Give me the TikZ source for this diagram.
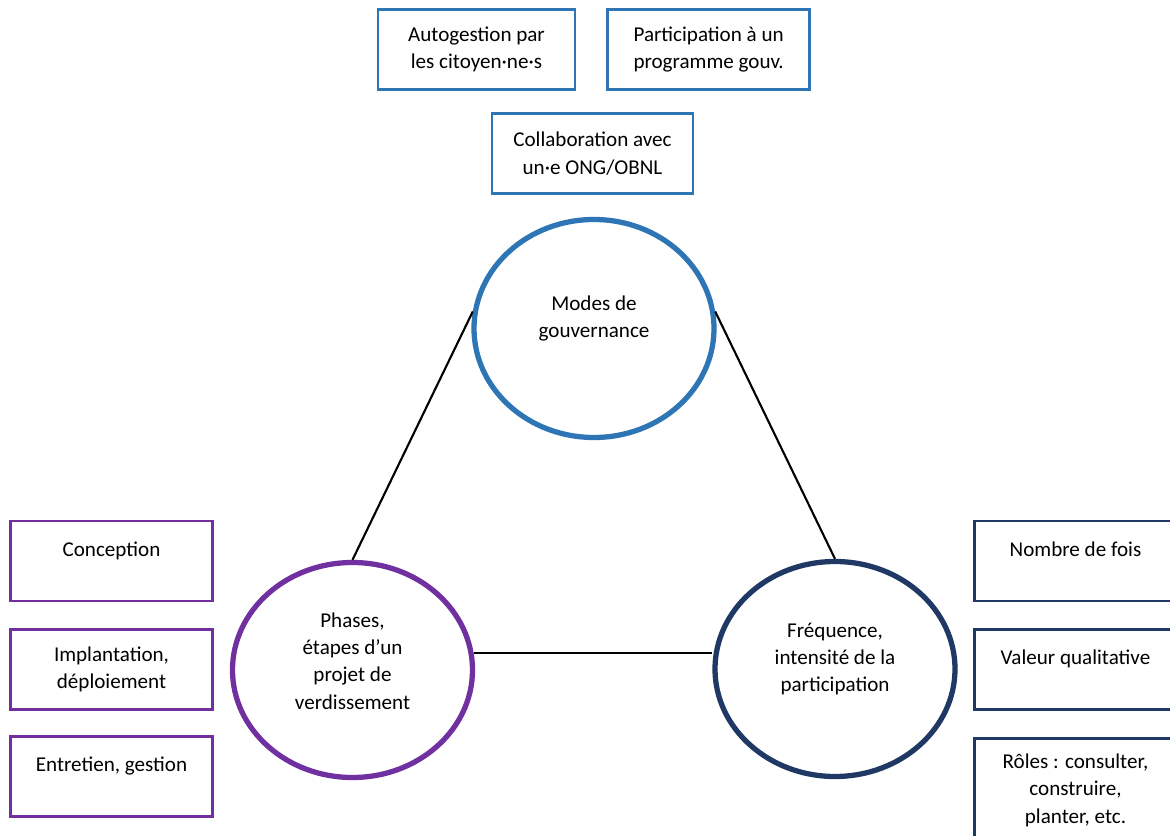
\documentclass[tikz,border=0pt]{standalone}
\usepackage{fontspec}
\setmainfont{Carlito}
\usetikzlibrary{shapes.geometric,positioning}
\definecolor{bleuM}{HTML}{2E75B6}
\definecolor{violetM}{HTML}{7030A0}
\definecolor{marine}{HTML}{203864}
\tikzset{
	boite/.style={rectangle, draw, line width=1.5pt, minimum width=4.04cm,
		minimum height=1.6cm, align=center, font=\fontsize{12}{15.6}\selectfont},
	seul/.style={text height=8pt, text depth=13.5pt},
	cercle/.style={ellipse, draw, line width=3pt, minimum width=4.8cm,
		minimum height=4.3cm, inner sep=0pt},
	texte/.style={align=center, font=\fontsize{12}{15.6}\selectfont},
	lien/.style={draw=black, line width=1.2pt}
}

\begin{document}
\begin{tikzpicture}[node distance=0.52cm]
	\clip (0,0) rectangle (23.4,16.7);
	
	% modes de gouvernance
	\node[boite, draw=bleuM, minimum width=3.94cm] (autogestion) at (9.53,15.71) {Autogestion par\\les citoyen·ne·s};
	\node[boite, draw=bleuM, right=0.6cm of autogestion] (programme) {Participation à un\\programme gouv.};
	\node[boite, draw=bleuM, minimum width=4.02cm] (collab) at (11.85,13.63) {Collaboration avec\\un·e ONG/OBNL};
	
	\node[cercle, draw=bleuM, minimum height=4.36cm] (modes) at (11.88,10.13) {};
	\node[texte] (tmodes) at ([yshift=0.2cm]modes.center) {Modes de\\gouvernance};
	
	% phases
	\node[cercle, draw=violetM] (phases) at (7.05,3.30) {};
	\node[texte] (tphases) at ([yshift=0.18cm]phases.center) {Phases,\\étapes d’un\\projet de\\verdissement};
	
	\node[boite, seul, draw=violetM] (conception) at (2.23,5.48) {Conception};
	\node[boite, draw=violetM, below=of conception] (implantation) {Implantation,\\déploiement};
	\node[boite, seul, draw=violetM, below=0.48cm of implantation] (entretien) {Entretien, gestion};
	
	% frequence
	\node[cercle, draw=marine] (freq) at (16.70,3.32) {};
	\node[texte] (tfreq) at ([yshift=0.2cm]freq.center) {Fréquence,\\intensité de la\\participation};
	
	\node[boite, seul, draw=marine] (nombre) at (21.51,5.48) {Nombre de fois};
	\node[boite, seul, draw=marine, below=of nombre] (valeur) {Valeur qualitative};
	\node[boite, draw=marine, minimum height=2.07cm, below=of valeur] (roles) {Rôles : consulter,\\construire,\\planter, etc.};
	
	% liens
	\draw[lien] (modes.172) -- (phases.north);
	\draw[lien] (modes.8) -- (freq.north);
	\draw[lien] (phases.8) -- (phases.8 -| freq.west);
\end{tikzpicture}
\end{document}
